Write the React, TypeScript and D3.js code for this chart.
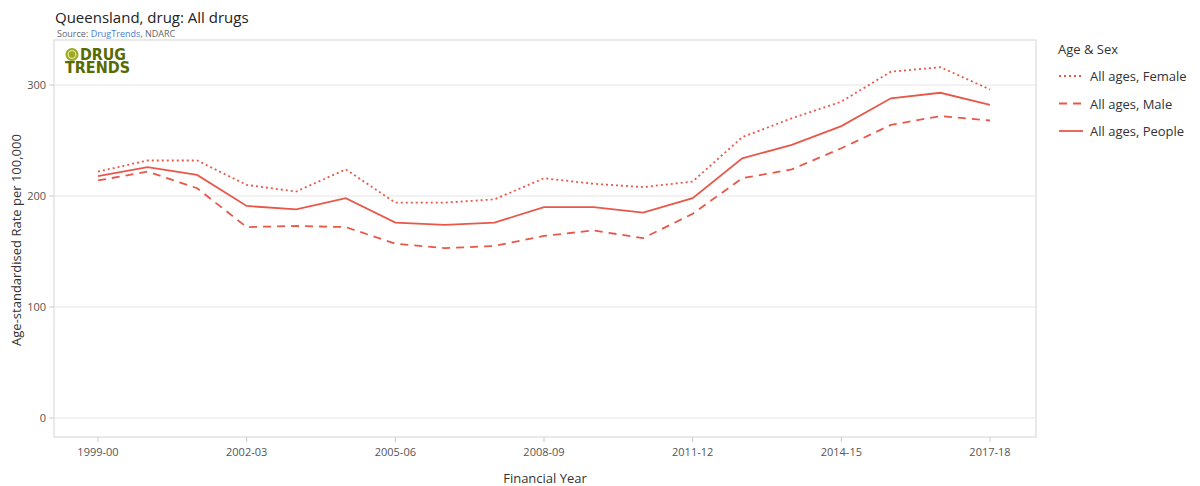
import React, { useEffect, useRef } from 'react';
import * as d3 from 'd3';

const years = [
  '1999-00', '2000-01', '2001-02', '2002-03', '2003-04', '2004-05', '2005-06',
  '2006-07', '2007-08', '2008-09', '2009-10', '2010-11', '2011-12', '2012-13',
  '2013-14', '2014-15', '2015-16', '2016-17', '2017-18',
];
const tickYears = ['1999-00', '2002-03', '2005-06', '2008-09', '2011-12', '2014-15', '2017-18'];
const yTicks = [0, 100, 200, 300];

const female = [222, 232, 232, 210, 204, 224, 194, 194, 197, 216, 211, 208, 213, 253, 270, 285, 312, 316, 296];
const male = [214, 222, 207, 172, 173, 172, 157, 153, 155, 164, 169, 162, 184, 216, 224, 243, 264, 272, 268];
const people = [218, 226, 219, 191, 188, 198, 176, 174, 176, 190, 190, 185, 198, 234, 246, 263, 288, 293, 282];

const seriesList = [
  { name: 'All ages, Female', values: female, dash: '2,3' },
  { name: 'All ages, Male', values: male, dash: '8,6' },
  { name: 'All ages, People', values: people, dash: null },
];

const COLOR = '#e8584a';
const FONT = '"Open Sans", sans-serif';
const LOGO_FONT = '"DejaVu Sans", sans-serif';

export default function App() {
  const svgRef = useRef<SVGSVGElement>(null);

  useEffect(() => {
    if (!svgRef.current) return;
    const svg = d3.select(svgRef.current);
    svg.selectAll('*').remove();

    const plot = { left: 54, right: 1036, top: 40, bottom: 437 };

    const x = d3.scalePoint().domain(years).range([98, 990]);
    const y = d3.scaleLinear().domain([0, 300]).range([418, 85]);

    svg.append('rect').attr('width', 1200).attr('height', 486).attr('fill', '#fff');

    // title + source
    svg.append('text')
      .attr('x', 55).attr('y', 23)
      .style('font-family', FONT).style('font-size', '15px').style('fill', '#222')
      .text('Queensland, drug: All drugs');

    const src = svg.append('text')
      .attr('x', 57).attr('y', 37)
      .style('font-family', FONT).style('font-size', '9px').style('fill', '#666');
    src.append('tspan').text('Source: ');
    src.append('tspan').style('fill', '#4a7ed8').text('DrugTrends');
    src.append('tspan').text(', NDARC');

    // plot frame
    svg.append('rect')
      .attr('x', plot.left).attr('y', plot.top)
      .attr('width', plot.right - plot.left).attr('height', plot.bottom - plot.top)
      .attr('fill', 'none').attr('stroke', '#e2e2e2').attr('stroke-width', 1.5);

    // gridlines
    const g = svg.append('g');
    g.selectAll('.grid')
      .data(yTicks)
      .enter()
      .append('line')
      .attr('x1', plot.left).attr('x2', plot.right)
      .attr('y1', (d) => y(d)).attr('y2', (d) => y(d))
      .attr('stroke', '#e6e6e6').attr('stroke-width', 1.2);

    // y axis ticks
    g.selectAll('.ytick')
      .data(yTicks)
      .enter()
      .append('line')
      .attr('x1', plot.left - 5).attr('x2', plot.left)
      .attr('y1', (d) => y(d)).attr('y2', (d) => y(d))
      .attr('stroke', '#ccc');
    g.selectAll('.ylab')
      .data(yTicks)
      .enter()
      .append('text')
      .attr('x', plot.left - 8).attr('y', (d) => y(d) + 4)
      .attr('text-anchor', 'end')
      .style('font-family', FONT).style('font-size', '11px').style('fill', '#555')
      .text((d) => d);

    // x axis ticks
    g.selectAll('.xtick')
      .data(tickYears)
      .enter()
      .append('line')
      .attr('x1', (d) => x(d)!).attr('x2', (d) => x(d)!)
      .attr('y1', plot.bottom).attr('y2', plot.bottom + 5)
      .attr('stroke', '#ccc');
    g.selectAll('.xlab')
      .data(tickYears)
      .enter()
      .append('text')
      .attr('x', (d) => x(d)!).attr('y', plot.bottom + 19)
      .attr('text-anchor', 'middle')
      .style('font-family', FONT).style('font-size', '11px').style('fill', '#555')
      .text((d) => d);

    // axis titles
    svg.append('text')
      .attr('x', 545).attr('y', 483)
      .attr('text-anchor', 'middle')
      .style('font-family', FONT).style('font-size', '13px').style('fill', '#333')
      .text('Financial Year');
    svg.append('text')
      .attr('transform', 'translate(21,240) rotate(-90)')
      .attr('text-anchor', 'middle')
      .style('font-family', FONT).style('font-size', '13px').style('fill', '#333')
      .text('Age-standardised Rate per 100,000');

    // logo
    const logo = svg.append('g').attr('transform', 'translate(64,46)');
    logo.append('circle').attr('cx', 8).attr('cy', 8.5).attr('r', 6.5).attr('fill', '#9aa824');
    logo.append('circle').attr('cx', 8).attr('cy', 8.5).attr('r', 3.8)
      .attr('fill', 'none').attr('stroke', '#dfe58a').attr('stroke-width', 1.3);
    logo.append('text')
      .attr('x', 16).attr('y', 14)
      .attr('textLength', 46).attr('lengthAdjust', 'spacingAndGlyphs')
      .style('font-family', LOGO_FONT).style('font-weight', 700)
      .style('font-size', '15px').style('fill', '#566b00')
      .text('DRUG');
    logo.append('text')
      .attr('x', 1).attr('y', 27)
      .attr('textLength', 65).attr('lengthAdjust', 'spacingAndGlyphs')
      .style('font-family', LOGO_FONT).style('font-weight', 700)
      .style('font-size', '15px').style('fill', '#566b00')
      .text('TRENDS');

    // lines
    const line = d3
      .line<number>()
      .x((_, i) => x(years[i])!)
      .y((d) => y(d));

    seriesList.forEach((s) => {
      svg.append('path')
        .datum(s.values)
        .attr('d', line)
        .attr('fill', 'none')
        .attr('stroke', COLOR)
        .attr('stroke-width', 1.8)
        .attr('stroke-dasharray', s.dash);
    });

    // legend
    svg.append('text')
      .attr('x', 1058).attr('y', 54)
      .style('font-family', FONT).style('font-size', '13px').style('fill', '#333')
      .text('Age & Sex');
    const leg = svg.selectAll('.leg')
      .data(seriesList)
      .enter()
      .append('g')
      .attr('transform', (_, i) => `translate(1059,${76 + i * 27.5})`);
    leg.append('line')
      .attr('x1', 0).attr('x2', 24)
      .attr('stroke', COLOR).attr('stroke-width', 1.8)
      .attr('stroke-dasharray', (d) => d.dash);
    leg.append('text')
      .attr('x', 31).attr('y', 5)
      .style('font-family', FONT).style('font-size', '13px').style('fill', '#333')
      .text((d) => d.name);
  }, []);

  return (
    <svg
      ref={svgRef}
      width={1200}
      height={486}
      style={{ position: 'absolute', left: 0, top: 0 }}
    ></svg>
  );
}
